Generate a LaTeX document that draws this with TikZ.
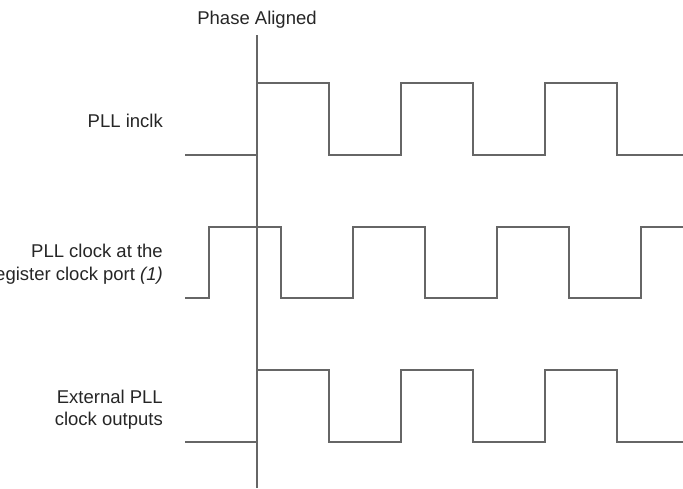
\documentclass[tikz,border=0pt]{standalone}
\usepackage{fontspec}
\setmainfont{Liberation Sans}
\begin{document}
\begin{tikzpicture}[x=1pt,y=-1pt,
  wave/.style={draw=black!60,line width=1.8pt,line join=miter},
  lbl/.style={inner sep=0pt,anchor=base east,font=\fontsize{18.5}{22}\selectfont,text=black!85}]
\useasboundingbox (0,0) rectangle (683,488);
\draw[wave] (257,35) -- (257,488);
\node[lbl,anchor=base] (ph) at (257,24) {Phase Aligned};
\node[lbl] (l1) at (163,127) {PLL inclk};
\node[lbl] (l2a) at (163,257) {PLL clock at the};
\node[lbl] (l2b) at (163,280) {register clock port \textit{(1)}};
\node[lbl] (l3a) at (163,403) {External PLL};
\node[lbl] (l3b) at (163,425) {clock outputs};
\draw[wave] (185,155) -- (257,155) -- (257,83) -- (329,83) -- (329,155) -- (401,155) -- (401,83) -- (473,83) -- (473,155) -- (545,155) -- (545,83) -- (617,83) -- (617,155) -- (684,155);
\draw[wave] (185,298) -- (209,298) -- (209,227) -- (281,227) -- (281,298) -- (353,298) -- (353,227) -- (425,227) -- (425,298) -- (497,298) -- (497,227) -- (569,227) -- (569,298) -- (641,298) -- (641,227) -- (684,227);
\draw[wave] (185,442) -- (257,442) -- (257,370) -- (329,370) -- (329,442) -- (401,442) -- (401,370) -- (473,370) -- (473,442) -- (545,442) -- (545,370) -- (617,370) -- (617,442) -- (684,442);
\end{tikzpicture}
\end{document}
